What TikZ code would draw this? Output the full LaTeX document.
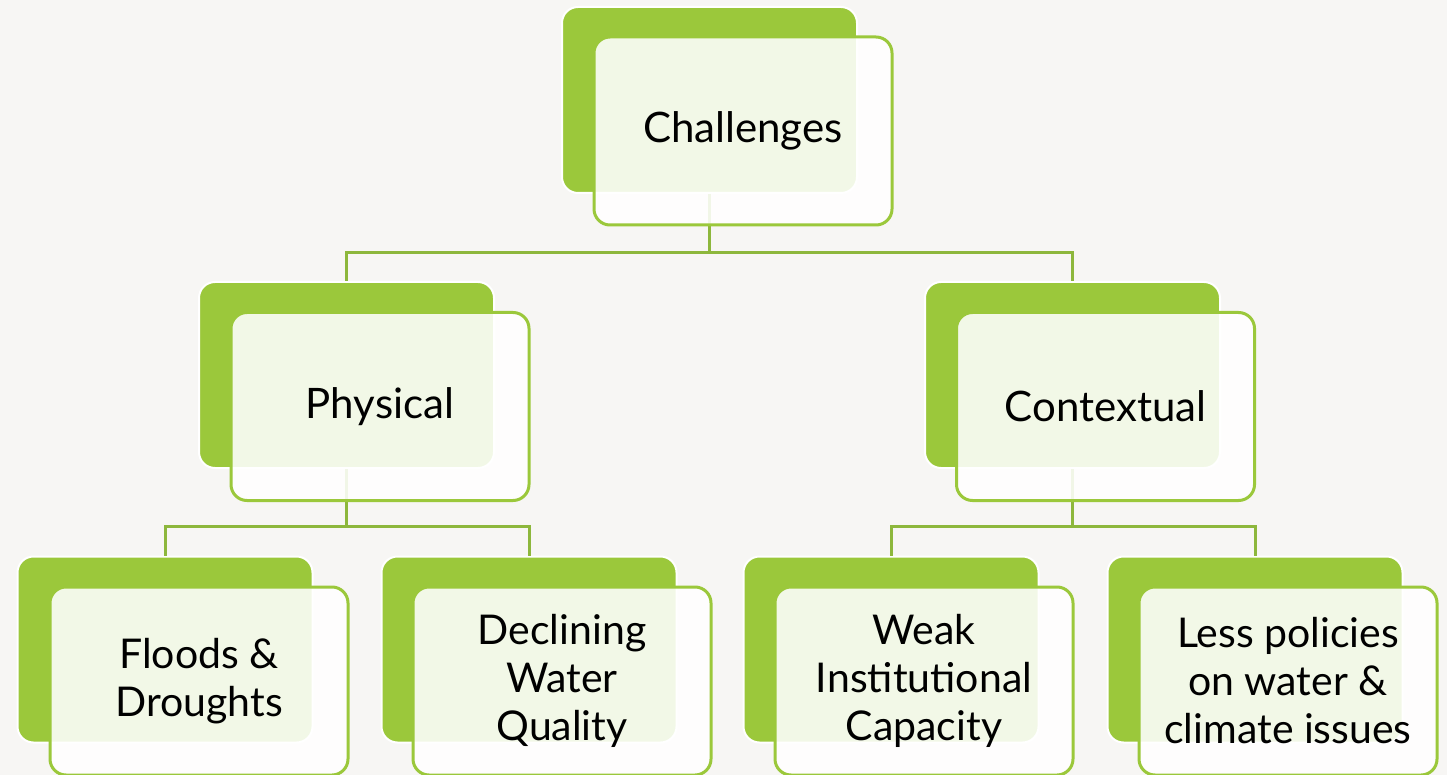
\documentclass[tikz,border=0pt]{standalone}
\usepackage{fontspec}
\setmainfont{Lato}
\definecolor{bgc}{HTML}{F7F6F4}
\definecolor{cgreen}{HTML}{9BC83B}
\definecolor{cline}{HTML}{8DB73C}
\tikzset{
  backbox/.style={fill=cgreen, draw=white, line width=2pt, rounded corners=16pt,
    minimum width=295pt, minimum height=186pt, inner sep=0pt},
  frontbox/.style={fill=white, fill opacity=0.88, text opacity=1, draw=cgreen, draw opacity=1,
    line width=3pt, rounded corners=16pt, minimum width=298pt, minimum height=188pt,
    inner sep=0pt, align=center, text=black},
  bigtext/.style={font=\fontsize{42}{50}\selectfont},
  smalltext/.style={font=\fontsize{41}{48}\selectfont},
  conn/.style={draw=cline, line width=3pt}
}
\begin{document}
\begin{tikzpicture}[x=1pt,y=-1pt]
\fill[bgc] (0,0) rectangle (1447,775);
\useasboundingbox (0,0) rectangle (1447,775);
% back boxes
\node[backbox] (chb) at (709.5,100) {};
\node[backbox] (phb) at (346.5,375) {};
\node[backbox] (cob) at (1072.5,375) {};
\node[backbox] (flb) at (165,649.5) {};
\node[backbox] (deb) at (529,649.5) {};
\node[backbox] (web) at (891,649.5) {};
\node[backbox] (leb) at (1255,649.5) {};
% junctions
\coordinate (j1) at (709.5,253);
\coordinate (j2) at (346.5,526);
\coordinate (j3) at (1072.5,526);
% connectors
\draw[conn] (chb.south) -- (j1);
\draw[conn] (j1) -| (phb.north);
\draw[conn] (j1) -| (cob.north);
\draw[conn] (phb.south) -- (j2);
\draw[conn] (j2) -| (flb.north);
\draw[conn] (j2) -| (deb.north);
\draw[conn] (cob.south) -- (j3);
\draw[conn] (j3) -| (web.north);
\draw[conn] (j3) -| (leb.north);
% front boxes
\node[frontbox,bigtext] (chf) at (743,131) {Challenges};
\node[frontbox,bigtext] (phf) at (380,406.5) {Physical};
\node[frontbox,bigtext] (cof) at (1105.5,406.5) {Contextual};
\node[frontbox,smalltext] (flf) at (199,681) {Floods \&\\Droughts};
\node[frontbox,smalltext] (def) at (562,681) {Declining\\Water\\Quality};
\node[frontbox,smalltext] (wef) at (924,681) {Weak\\Institutional\\Capacity};
\node[frontbox,smalltext] (lef) at (1288,681) {Less policies\\on water \&\\climate issues};
\end{tikzpicture}
\end{document}
